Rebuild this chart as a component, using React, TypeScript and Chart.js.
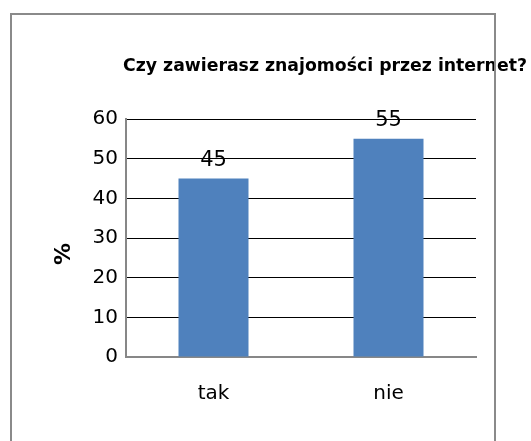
import React, { useEffect, useRef } from "react";
import { Chart, registerables } from "chart.js";

Chart.register(...registerables);

const categories: string[] = ["tak", "nie"];
const values: number[] = [45, 55];
const yTicks: number[] = [0, 10, 20, 30, 40, 50, 60];
const titleText = "Czy zawierasz znajomości przez internet?";
const yAxisTitle = "%";

const AXIS_GRAY = "#878787";

const decorPlugin = {
  id: "decor",
  afterDatasetsDraw(chart: any) {
    const ctx = chart.ctx;
    const meta = chart.getDatasetMeta(0);
    ctx.save();
    ctx.fillStyle = "#000";
    ctx.font = "21px 'DejaVu Sans'";
    ctx.textAlign = "center";
    ctx.textBaseline = "alphabetic";
    meta.data.forEach((bar: any, i: number) => {
      ctx.fillText(String(values[i]), bar.x, bar.y - 13);
    });
    ctx.restore();
  },
  afterDraw(chart: any) {
    const ctx = chart.ctx;
    ctx.save();
    // chart title
    ctx.fillStyle = "#000";
    ctx.font = "bold 17.3px 'DejaVu Sans'";
    ctx.textAlign = "center";
    ctx.textBaseline = "alphabetic";
    ctx.fillText(titleText, 325, 71);
    // y axis title
    ctx.translate(64, 254);
    ctx.rotate(-Math.PI / 2);
    ctx.font = "bold 22px 'DejaVu Sans'";
    ctx.textBaseline = "middle";
    ctx.fillText(yAxisTitle, 0, 0);
    ctx.restore();
    // outer border
    ctx.save();
    ctx.strokeStyle = "#8a8a8a";
    ctx.lineWidth = 2;
    ctx.strokeRect(11, 14, 484, 440);
    ctx.restore();
  },
};

export default function App() {
  const ref = useRef<HTMLCanvasElement | null>(null);

  useEffect(() => {
    if (!ref.current) return;
    const chart = new Chart(ref.current, {
      type: "bar",
      data: {
        labels: categories,
        datasets: [
          {
            data: values,
            backgroundColor: "#4F81BD",
            borderWidth: 0,
            categoryPercentage: 1,
            barPercentage: 0.4,
          },
        ],
      },
      options: {
        animation: false,
        responsive: false,
        maintainAspectRatio: false,
        layout: { padding: { left: 0, right: 55, top: 119, bottom: 0 } },
        plugins: {
          legend: { display: false },
          title: { display: false },
          tooltip: { enabled: false },
        },
        scales: {
          x: {
            afterFit: (s: any) => {
              s.height = 84;
            },
            grid: { display: false, drawTicks: false },
            border: { display: true, color: AXIS_GRAY, width: 2 },
            ticks: {
              color: "#000",
              font: { family: "'DejaVu Sans'", size: 20 },
              padding: 25,
            },
          },
          y: {
            min: 0,
            max: 60,
            afterFit: (s: any) => {
              s.width = 126;
            },
            afterBuildTicks: (s: any) => {
              s.ticks = yTicks.map((v) => ({ value: v }));
            },
            grid: {
              drawTicks: false,
              color: (c: any) => (c.tick && c.tick.value === 0 ? AXIS_GRAY : "#000"),
              lineWidth: 1,
            },
            border: { display: true, color: AXIS_GRAY, width: 2 },
            ticks: {
              color: "#000",
              font: { family: "'DejaVu Sans'", size: 20 },
              padding: 8,
            },
          },
        },
      },
      plugins: [decorPlugin],
    });
    return () => chart.destroy();
  }, []);

  return (
    <div style={{ position: "fixed", left: 0, top: 0, width: 531, height: 441, background: "#fff" }}>
      <canvas ref={ref} width={531} height={441} style={{ display: "block", width: 531, height: 441 }} />
    </div>
  );
}
